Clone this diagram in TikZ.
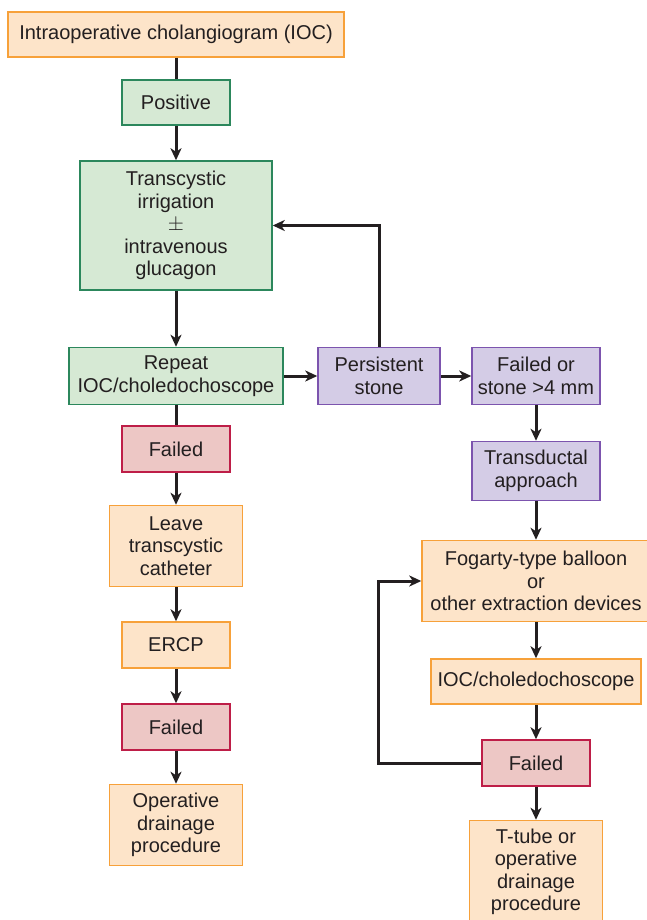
\documentclass[tikz,border=0pt]{standalone}
\usepackage{fontspec}
\setmainfont{Liberation Sans}
\usepackage{tikz}
\usetikzlibrary{arrows.meta}
\definecolor{orfill}{RGB}{253, 228, 201}
\definecolor{ordraw}{RGB}{247, 161, 58}
\definecolor{grfill}{RGB}{214, 233, 212}
\definecolor{grdraw}{RGB}{44, 135, 92}
\definecolor{pufill}{RGB}{212, 204, 230}
\definecolor{pudraw}{RGB}{124, 84, 174}
\definecolor{refill}{RGB}{237, 199, 197}
\definecolor{redraw}{RGB}{190, 30, 72}
\definecolor{ink}{RGB}{35, 31, 32}

\begin{document}
\begin{tikzpicture}[x=1pt, y=-1pt,
   box/.style={rectangle, line width=1.5, text=ink, align=center, inner sep=0,
               font=\fontsize{20}{22.5}\selectfont},
   orbox/.style={box, draw=ordraw, fill=orfill},
   grbox/.style={box, draw=grdraw, fill=grfill},
   pubox/.style={box, draw=pudraw, fill=pufill},
   rebox/.style={box, draw=redraw, fill=refill},
   link/.style={draw=ink, line width=3},
   arr/.style={link, -{Stealth[length=12, width=11, inset=3.5]}}
  ]
  \useasboundingbox (0, 0) rectangle (647, 920);
  \clip (0, 0) rectangle (647, 920);

  % left column
  \node (N1) at (176, 34.5) [orbox, minimum width=336, minimum height=45] {Intraoperative cholangiogram (IOC)};
  \node (N2) at (176, 102.5) [grbox, minimum width=108, minimum height=45] {Positive};
  \node (N3) at (176, 225.5) [grbox, minimum width=192, minimum height=129]
        {Transcystic\\irrigation\\$\pm$\\intravenous\\glucagon};
  \node (N4) at (176, 376) [grbox, minimum width=214, minimum height=57] {Repeat\\IOC/choledochoscope};
  \node (N12) at (176, 449) [rebox, minimum width=108, minimum height=46] {Failed};
  \node (N13) at (176, 546) [orbox, minimum width=133, minimum height=81] {Leave\\transcystic\\catheter};
  \node (N14) at (176, 645) [orbox, minimum width=108, minimum height=46] {ERCP};
  \node (N15) at (176, 727) [rebox, minimum width=108, minimum height=46] {Failed};
  \node (N16) at (176, 825) [orbox, minimum width=133, minimum height=81] {Operative\\drainage\\procedure};

  % right column
  \node (N5) at (379, 376) [pubox, minimum width=122, minimum height=57] {Persistent\\stone};
  \node (N6) at (536, 376) [pubox, minimum width=128, minimum height=57] {Failed or\\stone >4 mm};
  \node (N7) at (536, 471) [pubox, minimum width=128, minimum height=59] {Transductal\\approach};
  \node (N8) at (536, 581) [orbox, minimum width=228, minimum height=81]
        {Fogarty-type balloon\\or\\other extraction devices};
  \node (N9) at (536, 681.5) [orbox, minimum width=210, minimum height=45] {IOC/choledochoscope};
  \node (N10) at (536, 763) [rebox, minimum width=108, minimum height=46] {Failed};
  \node (N11) at (536, 872) [orbox, minimum width=133, minimum height=103]
        {T-tube or\\operative\\drainage\\procedure};

  \coordinate (L) at (378, 763);

  \foreach \B/\E in {N1/N2, N4/N12} {
    \draw[link] (\B) -- (\E);
  }
  \foreach \B/\E in {N2/N3, N3/N4, N4/N5, N5/N6, N6/N7, N7/N8, N8/N9, N9/N10, N10/N11,
                     N12/N13, N13/N14, N14/N15, N15/N16} {
    \draw[arr] (\B) -- (\E);
  }
  \draw[arr] (N5.north) |- (N3.east);
  \draw[arr] (N10.west) -- (L) |- (N8.west);

\end{tikzpicture}
\end{document}
